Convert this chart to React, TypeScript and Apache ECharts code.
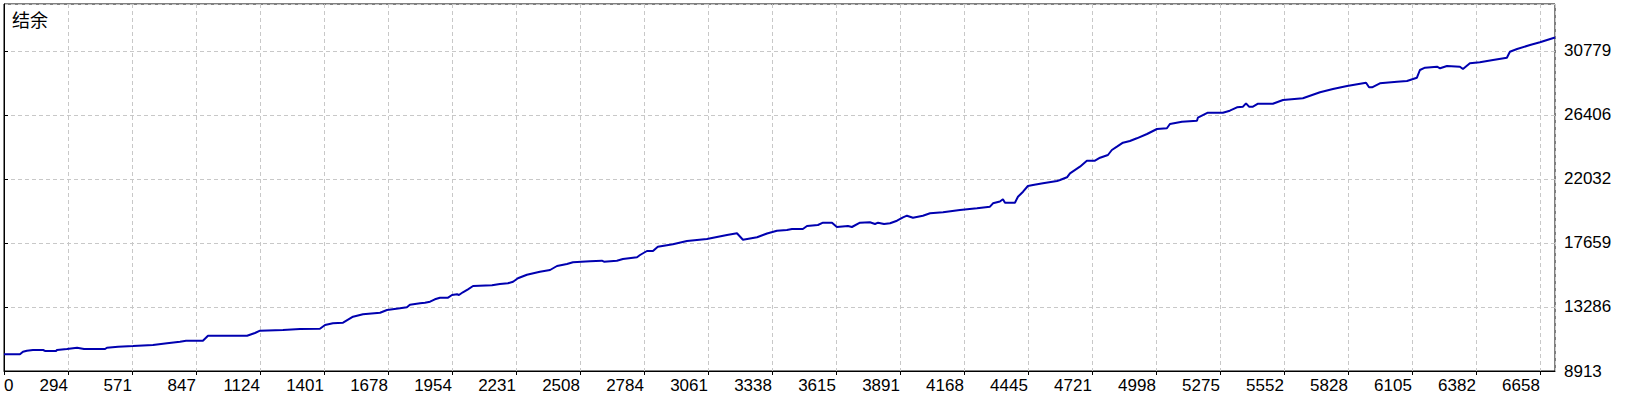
import { useEffect, useRef } from "react";
import * as echarts from "echarts";

// balance curve: trade number -> balance
const tradeNo = [
  0, 69, 82, 99, 125, 169, 177, 225, 229, 272, 316, 346, 437, 445, 493, 558, 644, 705, 761, 787,
  860, 882, 1051, 1085, 1107, 1206, 1280, 1366, 1388, 1422, 1466, 1509, 1552, 1626, 1656, 1712, 1742, 1755, 1799, 1820,
  1842, 1863, 1885, 1920, 1937, 1959, 1967, 1984, 2006, 2028, 2110, 2144, 2179, 2201, 2222, 2261, 2317, 2361, 2391, 2434,
  2460, 2534, 2585, 2594, 2650, 2676, 2737, 2750, 2780, 2806, 2827, 2892, 2953, 3039, 3126, 3169, 3195, 3256, 3299, 3342,
  3385, 3407, 3454, 3472, 3519, 3541, 3580, 3601, 3649, 3666, 3701, 3744, 3766, 3779, 3805, 3831, 3861, 3887, 3904, 3930,
  3973, 4004, 4060, 4133, 4207, 4263, 4276, 4306, 4319, 4328, 4371, 4384, 4406, 4427, 4449, 4492, 4553, 4566, 4596, 4609,
  4652, 4682, 4717, 4739, 4773, 4790, 4812, 4838, 4868, 4898, 4942, 4985, 5028, 5041, 5093, 5158, 5162, 5205, 5270, 5300,
  5331, 5357, 5370, 5383, 5400, 5422, 5486, 5530, 5616, 5690, 5746, 5807, 5889, 5902, 5915, 5949, 6023, 6066, 6109, 6122,
  6144, 6196, 6209, 6239, 6295, 6308, 6338, 6381, 6438, 6498, 6511, 6542, 6598, 6641, 6706,
];
const balance = [
  10054, 10054, 10232, 10300, 10348, 10348, 10280, 10280, 10348, 10416, 10505, 10416, 10416, 10505, 10573, 10621, 10690, 10806, 10915, 10983,
  10983, 11325, 11325, 11510, 11667, 11715, 11783, 11803, 12056, 12172, 12213, 12623, 12787, 12897, 13081, 13197, 13266, 13443, 13539, 13580,
  13648, 13812, 13922, 13922, 14106, 14154, 14106, 14291, 14496, 14721, 14769, 14858, 14906, 15015, 15247, 15493, 15698, 15814, 16088, 16224,
  16341, 16409, 16450, 16382, 16450, 16566, 16682, 16839, 17113, 17113, 17406, 17570, 17796, 17933, 18206, 18322, 17885, 18049, 18308, 18500,
  18548, 18616, 18616, 18821, 18889, 19046, 19046, 18753, 18821, 18753, 19046, 19074, 18958, 19046, 18958, 19005, 19183, 19415, 19525, 19388,
  19525, 19689, 19757, 19914, 20030, 20140, 20372, 20495, 20645, 20413, 20413, 20823, 21165, 21554, 21622, 21738, 21896, 21964, 22148, 22422,
  22873, 23283, 23283, 23488, 23672, 24014, 24239, 24513, 24629, 24813, 25107, 25449, 25497, 25791, 25948, 26016, 26221, 26563, 26563, 26699,
  26931, 26973, 27205, 26973, 26973, 27178, 27178, 27430, 27547, 27957, 28182, 28387, 28613, 28298, 28298, 28572, 28681, 28729, 28954, 29480,
  29638, 29706, 29596, 29754, 29706, 29549, 29938, 30006, 30164, 30321, 30731, 30915, 31189, 31373, 31701,
];

const xTickLabels = [
  "0", "294", "571", "847", "1124", "1401", "1678", "1954", "2231", "2508", "2784", "3061", "3338",
  "3615", "3891", "4168", "4445", "4721", "4998", "5275", "5552", "5828", "6105", "6382", "6658",
];
const yTickLabels = ["8913", "13286", "17659", "22032", "26406", "30779"];

const X_STEP = 276.7;
const X_MAX = 6706;
const Y_BASE = 8913;
const Y_STEP = 4373.15;
const Y_MAX = 25077;

const axisFont = "'Liberation Sans', Arial, sans-serif";

export default function App() {
  const ref = useRef<HTMLDivElement | null>(null);

  useEffect(() => {
    document.body.style.margin = "0";
    if (!ref.current) return;
    const chart = echarts.init(ref.current, null, { renderer: "svg" });

    const data = tradeNo.map((t, i) => [t, balance[i] - Y_BASE]);
    const xLabel = (v: number) => xTickLabels[Math.round(v / X_STEP)] ?? "";

    chart.setOption({
      animation: false,
      backgroundColor: "#fff",
      title: {
        text: "结余",
        left: 12,
        top: 10,
        padding: 0,
        textStyle: {
          fontFamily: "'Noto Sans CJK SC', sans-serif",
          fontSize: 18,
          fontWeight: "normal",
          color: "#000",
        },
      },
      grid: {
        left: 4,
        right: 85,
        top: 4,
        bottom: 29,
        show: true,
        borderColor: "#000",
        borderWidth: 1,
        backgroundColor: "#fff",
      },
      xAxis: [
        {
          type: "value",
          min: 0,
          max: X_MAX,
          interval: X_STEP,
          position: "bottom",
          axisLine: { show: true, lineStyle: { color: "#000", width: 1 } },
          axisTick: { show: true, length: 4, lineStyle: { color: "#000" } },
          splitLine: { show: true, lineStyle: { color: "#c8c8c8", type: [4, 3], width: 1 } },
          axisLabel: {
            showMaxLabel: false,
            align: "right",
            margin: 6,
            color: "#000",
            fontFamily: axisFont,
            fontSize: 17,
            formatter: (v: number) => (Math.round(v / X_STEP) === 0 ? "" : xLabel(v)),
          },
        },
        {
          // only carries the "0" label, which sits to the right of its tick
          type: "value",
          min: 0,
          max: X_MAX,
          interval: X_STEP,
          position: "bottom",
          axisLine: { show: false },
          axisTick: { show: false },
          splitLine: { show: false },
          axisLabel: {
            showMaxLabel: false,
            align: "left",
            margin: 6,
            color: "#000",
            fontFamily: axisFont,
            fontSize: 17,
            formatter: (v: number) => (Math.round(v / X_STEP) === 0 ? xTickLabels[0] : ""),
          },
        },
      ],
      yAxis: {
        type: "value",
        position: "right",
        min: 0,
        max: Y_MAX,
        interval: Y_STEP,
        axisLine: { show: true, lineStyle: { color: "#000", width: 1 } },
        axisTick: { show: true, length: 4, lineStyle: { color: "#000" } },
        splitLine: { show: true, lineStyle: { color: "#c8c8c8", type: [4, 3], width: 1 } },
        axisLabel: {
          showMaxLabel: false,
          margin: 9,
          color: "#000",
          fontFamily: axisFont,
          fontSize: 17,
          formatter: (v: number) => yTickLabels[Math.round(v / Y_STEP)] ?? "",
        },
      },
      series: [
        {
          type: "line",
          xAxisIndex: 0,
          data,
          showSymbol: false,
          symbol: "none",
          lineStyle: { color: "#0000b0", width: 2 },
        },
      ],
    });

    return () => {
      chart.dispose();
    };
  }, []);

  return <div ref={ref} style={{ width: 1640, height: 400 }} />;
}
